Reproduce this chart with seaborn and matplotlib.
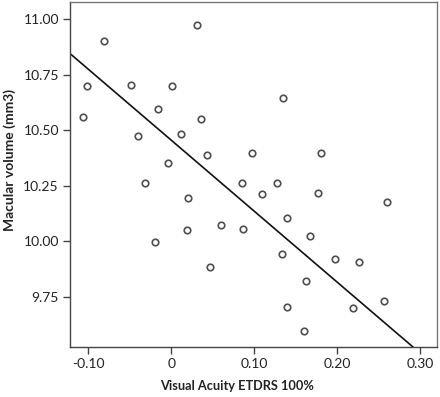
import numpy as np
import pandas as pd
import matplotlib
matplotlib.use("Agg")
import matplotlib.pyplot as plt
import seaborn as sns

visual_acuity = [-0.081, 0.031, -0.101, -0.106, -0.049, 0.001, -0.016, 0.036, -0.040,
                 0.012, 0.043, -0.004, 0.097, -0.032, 0.085, 0.020, 0.135, 0.181,
                 0.127, 0.110, 0.177, 0.260, -0.020, 0.019, 0.060, 0.086, 0.047,
                 0.140, 0.167, 0.134, 0.197, 0.227, 0.163, 0.256, 0.140, 0.219, 0.160]
macular_volume = [10.902, 10.974, 10.700, 10.561, 10.703, 10.700, 10.594, 10.549, 10.475,
                  10.483, 10.388, 10.351, 10.396, 10.264, 10.264, 10.196, 10.646, 10.397,
                  10.261, 10.212, 10.218, 10.175, 9.997, 10.051, 10.075, 10.056, 9.886,
                  10.104, 10.024, 9.943, 9.921, 9.907, 9.822, 9.733, 9.704, 9.699, 9.596]
# fit line as drawn in the reference
fit_intercept = 10.455
fit_slope = -3.19

x_ticks = [-0.10, 0.0, 0.10, 0.20, 0.30]
x_tick_labels = ["-0.10", "0", "0.10", "0.20", "0.30"]
y_ticks = [9.75, 10.00, 10.25, 10.50, 10.75, 11.00]
y_tick_labels = ["9.75", "10.00", "10.25", "10.50", "10.75", "11.00"]

df = pd.DataFrame({"va": visual_acuity, "mv": macular_volume})

sns.set_style("white")
plt.rcParams["font.family"] = ["Lato", "DejaVu Sans"]

fig = plt.figure(figsize=(4.4, 3.97), dpi=100)
ax = fig.add_axes([70 / 440, 50 / 397, 367 / 440, 345 / 397])

sns.regplot(data=df, x="va", y="mv", ax=ax, fit_reg=False,
            scatter_kws=dict(s=22, facecolors="white", edgecolors="#222222", linewidths=1.2))
ax.axline((0, fit_intercept), slope=fit_slope, color="#111111", linewidth=1.2)

ax.set_xlim(-0.122, 0.3205)
ax.set_ylim(9.525, 11.076)

ax.set_xticks(x_ticks)
ax.set_xticklabels(x_tick_labels)
ax.set_yticks(y_ticks)
ax.set_yticklabels(y_tick_labels)
ax.tick_params(axis="both", direction="out", length=5, width=1, color="#444444",
               labelsize=10, labelcolor="#222222", pad=3, bottom=True, left=True)

for name, sp in ax.spines.items():
    sp.set_color("#444444" if name in ("left", "bottom") else "#777777")
    sp.set_linewidth(1.0)

ax.set_xlabel("Visual Acuity ETDRS 100%", fontsize=9.2, fontweight="bold", color="#222222")
ax.xaxis.set_label_coords(0.454, -0.096)
ax.set_ylabel("Macular volume (mm3)", fontsize=10, fontweight="bold", color="#222222")
ax.yaxis.set_label_coords(-0.148, 0.542)

fig.savefig("out.png", dpi=100)
